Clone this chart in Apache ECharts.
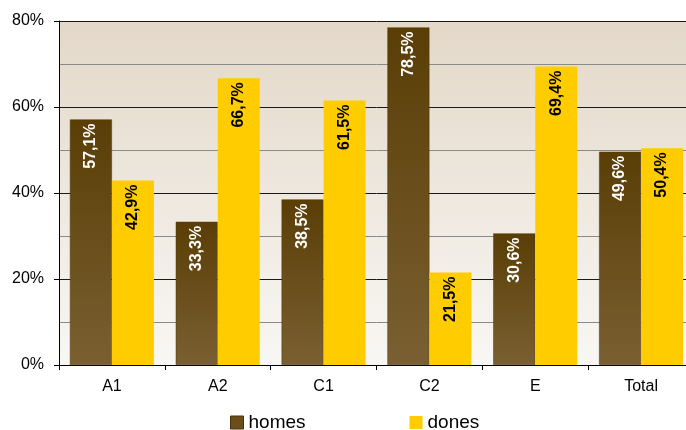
<!DOCTYPE html>
<html><head><meta charset="utf-8">
<script src="https://cdn.jsdelivr.net/npm/echarts@6/dist/echarts.min.js"></script>
<style>html,body{margin:0;padding:0;background:#fff;overflow:hidden;width:686px;height:430px}#c{width:700px;height:430px}</style>
</head><body><div id="c"></div>
<script>
var categories = ['A1', 'A2', 'C1', 'C2', 'E', 'Total'];
var homes = [57.1, 33.3, 38.5, 78.5, 30.6, 49.6];
var dones = [42.9, 66.7, 61.5, 21.5, 69.4, 50.4];
var yTicks = [0, 20, 40, 60, 80];

var chart = echarts.init(document.getElementById('c'), null, {renderer: 'canvas'});
function fmt(p) { return p.value.toFixed(1).replace('.', ',') + '%'; }
var font = 'Liberation Sans, Arial, sans-serif';
var labelBase = {
  show: true, position: 'insideTop', rotate: 90, align: 'right', verticalAlign: 'middle',
  distance: 4, fontFamily: font, fontWeight: 'bold', fontSize: 16, formatter: fmt
};
chart.setOption({
  animation: false,
  textStyle: {fontFamily: font},
  grid: {
    left: 59, width: 635, top: 21, height: 344, show: true, borderWidth: 0,
    backgroundColor: new echarts.graphic.LinearGradient(0, 0, 0, 1, [
      {offset: 0, color: '#e3d8c8'}, {offset: 1, color: '#f9f7f4'}
    ])
  },
  legend: {
    left: 225, top: 408, itemWidth: 13, itemHeight: 13, itemGap: 104,
    textStyle: {fontFamily: font, fontSize: 19, color: '#000'},
    data: [
      {name: 'homes', icon: 'rect', itemStyle: {color: '#6a4e1c', borderColor: '#4a3406', borderWidth: 1}},
      {name: 'dones', icon: 'rect', itemStyle: {color: '#ffcc00'}}
    ]
  },
  xAxis: {
    type: 'category', data: categories,
    axisLine: {lineStyle: {color: '#000', width: 1}},
    axisTick: {show: true, length: 5, lineStyle: {color: '#000'}},
    axisLabel: {color: '#000', fontSize: 16, margin: 14, fontFamily: font},
    splitLine: {show: false}
  },
  yAxis: {
    type: 'value', min: 0, max: 80, interval: 20,
    axisLine: {show: true, lineStyle: {color: '#000'}},
    axisTick: {show: true, length: 5, lineStyle: {color: '#000'}},
    axisLabel: {color: '#000', fontSize: 16, margin: 15, fontFamily: font,
      formatter: function (v) { return yTicks.indexOf(v) >= 0 ? v + '%' : ''; }},
    splitLine: {show: true, lineStyle: {color: '#1a1a1a', width: 1}},
    minorTick: {show: false, splitNumber: 2},
    minorSplitLine: {show: true, lineStyle: {color: '#8a8a8a', width: 1}}
  },
  series: [
    {
      name: 'homes', type: 'bar', data: homes, barWidth: 42, barGap: '0%',
      itemStyle: {
        color: new echarts.graphic.LinearGradient(0, 0, 0, 1, [
          {offset: 0, color: '#5a3e06'}, {offset: 1, color: '#7a5f32'}
        ]),
        borderColor: '#4e3806', borderWidth: 0.5
      },
      label: Object.assign({}, labelBase, {color: '#fff'})
    },
    {
      name: 'dones', type: 'bar', data: dones, barWidth: 42,
      itemStyle: {color: '#ffcc00'},
      label: Object.assign({}, labelBase, {color: '#000'})
    }
  ]
});
</script></body></html>
